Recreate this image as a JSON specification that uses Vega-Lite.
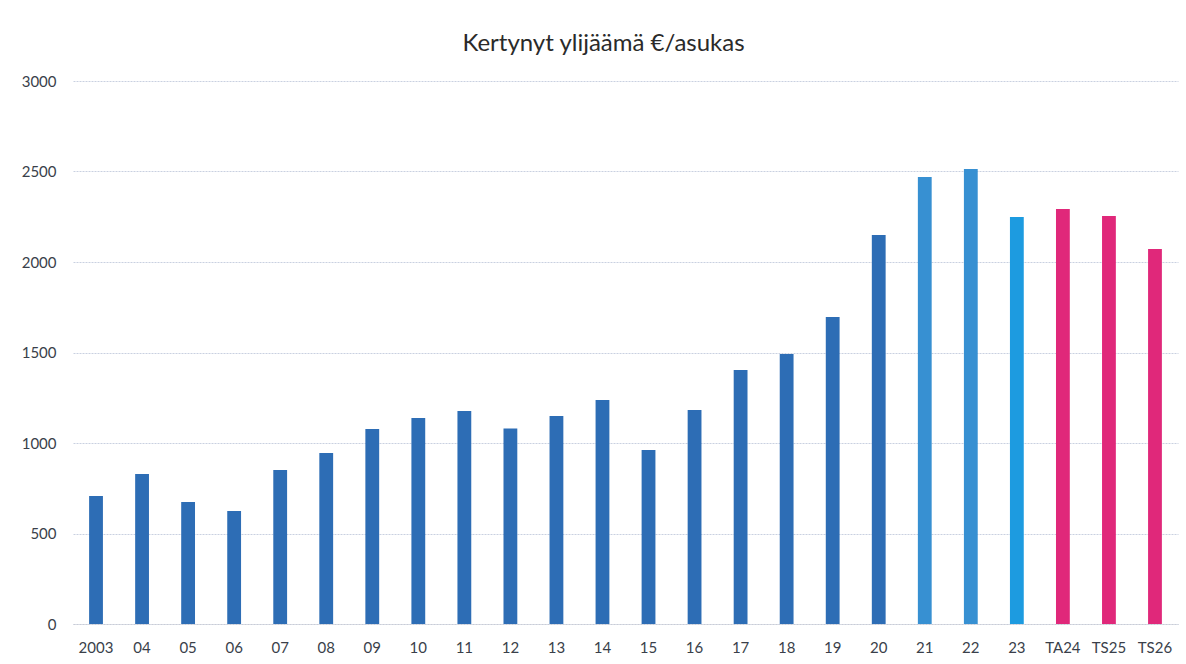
{
  "$schema": "https://vega.github.io/schema/vega-lite/v6.json",
  "autosize": "none",
  "width": 1105,
  "height": 543,
  "padding": {"left": 73, "top": 81, "right": 8, "bottom": 40},
  "background": "white",
  "title": {
    "text": "Kertynyt ylijäämä €/asukas",
    "font": "Lato",
    "fontSize": 24,
    "fontWeight": "normal",
    "color": "#2a2a2a",
    "anchor": "middle",
    "dx": -22,
    "offset": 18
  },
  "data": {
    "values": [
      {"vuosi": "2003", "arvo": 707, "ryhma": "A"},
      {"vuosi": "04", "arvo": 829, "ryhma": "A"},
      {"vuosi": "05", "arvo": 674, "ryhma": "A"},
      {"vuosi": "06", "arvo": 624, "ryhma": "A"},
      {"vuosi": "07", "arvo": 851, "ryhma": "A"},
      {"vuosi": "08", "arvo": 945, "ryhma": "A"},
      {"vuosi": "09", "arvo": 1077, "ryhma": "A"},
      {"vuosi": "10", "arvo": 1138, "ryhma": "A"},
      {"vuosi": "11", "arvo": 1177, "ryhma": "A"},
      {"vuosi": "12", "arvo": 1080, "ryhma": "A"},
      {"vuosi": "13", "arvo": 1149, "ryhma": "A"},
      {"vuosi": "14", "arvo": 1238, "ryhma": "A"},
      {"vuosi": "15", "arvo": 961, "ryhma": "A"},
      {"vuosi": "16", "arvo": 1182, "ryhma": "A"},
      {"vuosi": "17", "arvo": 1403, "ryhma": "A"},
      {"vuosi": "18", "arvo": 1492, "ryhma": "A"},
      {"vuosi": "19", "arvo": 1696, "ryhma": "A"},
      {"vuosi": "20", "arvo": 2149, "ryhma": "A"},
      {"vuosi": "21", "arvo": 2470, "ryhma": "B"},
      {"vuosi": "22", "arvo": 2514, "ryhma": "B"},
      {"vuosi": "23", "arvo": 2249, "ryhma": "C"},
      {"vuosi": "TA24", "arvo": 2293, "ryhma": "D"},
      {"vuosi": "TS25", "arvo": 2254, "ryhma": "D"},
      {"vuosi": "TS26", "arvo": 2072, "ryhma": "D"}
    ]
  },
  "mark": {"type": "bar"},
  "encoding": {
    "x": {
      "field": "vuosi",
      "type": "nominal",
      "sort": null,
      "scale": {"paddingInner": 0.7, "paddingOuter": 0.35},
      "axis": {
        "title": null,
        "labelAngle": 0,
        "ticks": false,
        "domain": true,
        "domainColor": "#c9ccd6",
        "domainDash": [2, 1],
        "labelFont": "Lato",
        "labelFontSize": 15,
        "labelColor": "#3a3f4a",
        "labelPadding": 16
      }
    },
    "y": {
      "field": "arvo",
      "type": "quantitative",
      "scale": {"domain": [0, 3000]},
      "axis": {
        "title": null,
        "values": [0, 500, 1000, 1500, 2000, 2500, 3000],
        "format": "d",
        "ticks": false,
        "domain": false,
        "grid": true,
        "gridColor": "#c9d0e0",
        "gridDash": [2, 1],
        "gridWidth": 1,
        "labelFont": "Lato",
        "labelFontSize": 15,
        "labelColor": "#3a3f4a",
        "labelPadding": 17
      }
    },
    "color": {
      "field": "ryhma",
      "type": "nominal",
      "scale": {"domain": ["A", "B", "C", "D"], "range": ["#2d6db5", "#3790d2", "#1d9be0", "#e0287a"]},
      "legend": null
    }
  },
  "config": {"view": {"stroke": null}}
}
